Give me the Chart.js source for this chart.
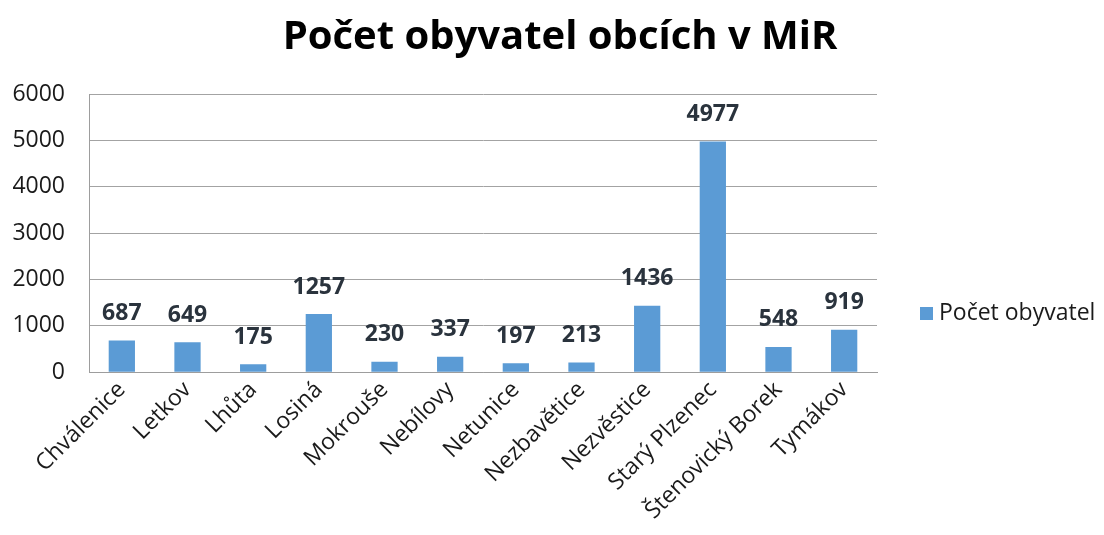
<!DOCTYPE html>
<html>
<head>
<meta charset="utf-8">
<script src="https://cdn.jsdelivr.net/npm/chart.js@4/dist/chart.umd.min.js"></script>
<style>
  html, body { margin: 0; padding: 0; background: #fff; }
  #wrap { width: 1104px; height: 535px; }
</style>
</head>
<body>
<div id="wrap"><canvas id="barChart" width="1104" height="535"></canvas></div>
<script>
// Values
const categories = ['Chválenice', 'Letkov', 'Lhůta', 'Losiná', 'Mokrouše', 'Nebílovy', 'Netunice',
    'Nezbavětice', 'Nezvěstice', 'Starý Plzenec', 'Štenovický Borek', 'Tymákov'];
const population = [687, 649, 175, 1257, 230, 337, 197, 213, 1436, 4977, 548, 919];
const seriesName = 'Počet obyvatel';
const chartTitle = 'Počet obyvatel obcích v MiR';
const yTicks = [0, 1000, 2000, 3000, 4000, 5000, 6000];

const barColor = '#5B9BD5';
const fontFamily = "'Open Sans', 'Noto Sans', sans-serif";

// Bold value labels above each bar
const valueLabels = {
    id: 'valueLabels',
    afterDatasetsDraw(chart) {
        const ctx = chart.ctx;
        const meta = chart.getDatasetMeta(0);
        ctx.save();
        ctx.font = 'bold 23px ' + fontFamily;
        ctx.fillStyle = '#2a333d';
        ctx.textAlign = 'center';
        ctx.textBaseline = 'middle';
        meta.data.forEach((bar, i) => {
            ctx.fillText(String(population[i]), bar.x, bar.y - 27);
        });
        ctx.restore();
    }
};

// Title centred on the whole canvas, legend on the right like the original
const titleAndLegend = {
    id: 'titleAndLegend',
    afterDraw(chart) {
        const ctx = chart.ctx;
        ctx.save();
        ctx.font = 'bold 40px ' + fontFamily;
        ctx.fillStyle = '#000';
        ctx.textAlign = 'center';
        ctx.textBaseline = 'middle';
        ctx.fillText(chartTitle, chart.width / 2 + 8, 38);

        const x = chart.chartArea.right + 43;
        const y = 313;
        ctx.fillStyle = barColor;
        ctx.fillRect(x, y - 6, 13, 13);
        ctx.font = '23px ' + fontFamily;
        ctx.fillStyle = '#1a1a1a';
        ctx.textAlign = 'left';
        ctx.fillText(seriesName, x + 19, y);
        ctx.restore();
    }
};

const barCtx = document.getElementById('barChart').getContext('2d');

new Chart(barCtx, {
    type: 'bar',
    data: {
        labels: categories,
        datasets: [{
            label: seriesName,
            data: population,
            backgroundColor: barColor,
            borderWidth: 0,
            categoryPercentage: 1.0,
            barPercentage: 0.4
        }]
    },
    options: {
        responsive: false,
        animation: false,
        layout: { padding: { left: 12, right: 227, top: 94, bottom: 6 } },
        plugins: {
            legend: { display: false },
            tooltip: { enabled: false },
            title: { display: false }
        },
        scales: {
            x: {
                // rotated labels may hang past the left edge, as in the original
                afterFit(scale) {
                    scale.paddingLeft = 0;
                    scale.paddingRight = 0;
                },
                grid: { display: false, drawTicks: false },
                border: { color: '#9d9d9d', width: 1 },
                ticks: {
                    color: '#1a1a1a',
                    font: { family: fontFamily, size: 23 },
                    maxRotation: 45,
                    minRotation: 45,
                    padding: 4,
                    autoSkip: false
                }
            },
            y: {
                min: 0,
                max: 6000,
                afterBuildTicks(axis) {
                    axis.ticks = yTicks.map(v => ({ value: v }));
                },
                // Chart.js reserves the tick padding twice; keep the axis where the original has it
                afterFit(scale) {
                    scale.width = 77;
                },
                grid: { color: '#a3a3a3', lineWidth: 1, drawTicks: false },
                border: { color: '#9d9d9d', width: 1 },
                ticks: {
                    color: '#1a1a1a',
                    font: { family: fontFamily, size: 23 },
                    padding: 24,
                    callback: v => String(v)
                }
            }
        }
    },
    plugins: [valueLabels, titleAndLegend]
});
</script>
</body>
</html>
